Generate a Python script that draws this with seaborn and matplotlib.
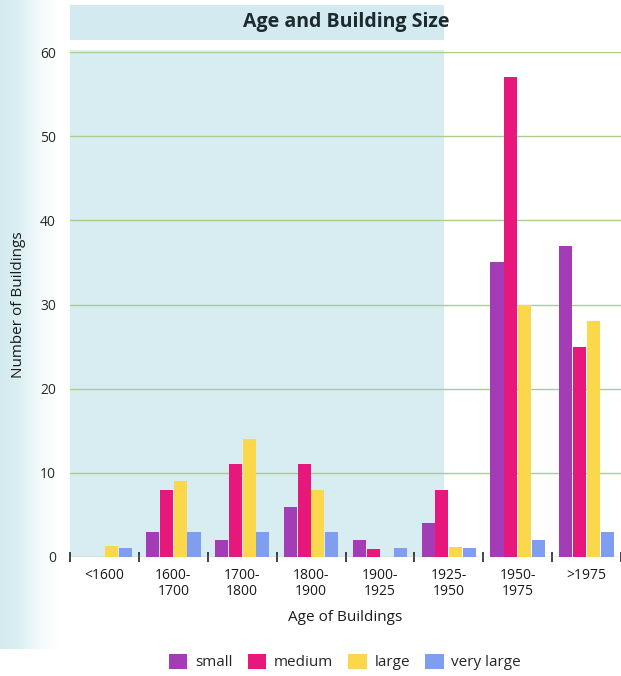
import numpy as np
import pandas as pd
import matplotlib
matplotlib.use("Agg")
import matplotlib.pyplot as plt
from matplotlib.patches import Rectangle, Patch
import seaborn as sns

# Building counts by construction period and size class
periods = ["<1600", "1600-\n1700", "1700-\n1800", "1800-\n1900",
           "1900-\n1925", "1925-\n1950", "1950-\n1975", ">1975"]
sizes = ["small", "medium", "large", "very large"]
small = [0, 3, 2, 6, 2, 4, 35, 37]
medium = [0, 8, 11, 11, 1, 8, 57, 25]
large = [1.3, 9, 14, 8, 0, 1.2, 30, 28]
very_large = [1.1, 3, 3, 3, 1.1, 1.1, 2, 3]
y_ticks = [0, 10, 20, 30, 40, 50, 60]

colors = ["#a43db5", "#e8177c", "#fbd84b", "#7f9ef0"]

df = pd.DataFrame({
    "period": periods * 4,
    "size": np.repeat(sizes, len(periods)),
    "count": small + medium + large + very_large,
})

sns.set_theme(style="white")
plt.rcParams["font.family"] = ["Open Sans", "DejaVu Sans"]

W, H = 621, 676
fig = plt.figure(figsize=(W / 100, H / 100), dpi=100)
fig.patch.set_facecolor("white")

# tinted page background: soft left strip and shaded panel
grad_ax = fig.add_axes([0, 0.04, 60 / W, 0.96])
grad = np.linspace(0, 1, 64)[None, :]
grad_ax.imshow(grad, aspect="auto", cmap=matplotlib.colors.LinearSegmentedColormap.from_list(
    "tint", ["#d2eaef", "#dcf0f3", "#f4fafb", "#ffffff"]), extent=[0, 1, 0, 1])
grad_ax.set_axis_off()
grad_ax.set_zorder(-5)

fx = lambda px: px / W
fy = lambda py: 1 - py / H
fig.patches.append(Rectangle((fx(70), fy(40)), fx(444) - fx(70), fy(5) - fy(40),
                             transform=fig.transFigure, facecolor="#d3eaf0",
                             edgecolor="none", zorder=-3))
fig.patches.append(Rectangle((fx(70), fy(557)), fx(444) - fx(70), fy(50) - fy(557),
                             transform=fig.transFigure, facecolor="#d8edf1",
                             edgecolor="none", zorder=-3))

ax = fig.add_axes([fx(70), fy(557), fx(621) - fx(70), fy(52) - fy(557)])
ax.set_facecolor("none")

sns.barplot(data=df, x="period", y="count", hue="size", hue_order=sizes,
            palette=colors, width=0.8, gap=0.05, saturation=1,
            edgecolor="none", legend=False, ax=ax, zorder=3)

ax.set_xlim(-0.5, len(periods) - 0.5)
ax.set_ylim(0, 60)
ax.set_yticks(y_ticks)
ax.yaxis.grid(True, color="#a8cf8c", linewidth=1.0, zorder=0)
ax.set_axisbelow(True)
for s in ax.spines.values():
    s.set_visible(False)

ax.tick_params(axis="y", length=0, pad=10, labelsize=10, labelcolor="#2a2a2a")
ax.tick_params(axis="x", which="major", bottom=False, length=0, pad=8,
               labelsize=10, labelcolor="#1a1a1a")
ax.set_xticks(np.arange(-0.5, len(periods) + 0.5, 1), minor=True)
ax.tick_params(axis="x", which="minor", bottom=True, length=7, width=1.2,
               color="#222222", direction="inout")
for lbl in ax.get_xticklabels():
    lbl.set_linespacing(1.1)

ax.set_xlabel("Age of Buildings", fontsize=11, color="#1a1a1a", labelpad=8)
ax.set_ylabel("Number of Buildings", fontsize=11, color="#1a1a1a", labelpad=10)

fig.text(fx(346), fy(22), "Age and Building Size", ha="center", va="center",
         fontsize=14, fontweight="bold", color="#1c2a2e")

handles = [Patch(facecolor=c, edgecolor="none") for c in colors]
fig.legend(handles, sizes, loc="center", bbox_to_anchor=(fx(345), fy(662)),
           ncol=4, frameon=False, fontsize=11, handlelength=1.2, handleheight=1.2,
           handletextpad=0.5, columnspacing=1.0)

fig.savefig("out.png", dpi=100, facecolor="white")
